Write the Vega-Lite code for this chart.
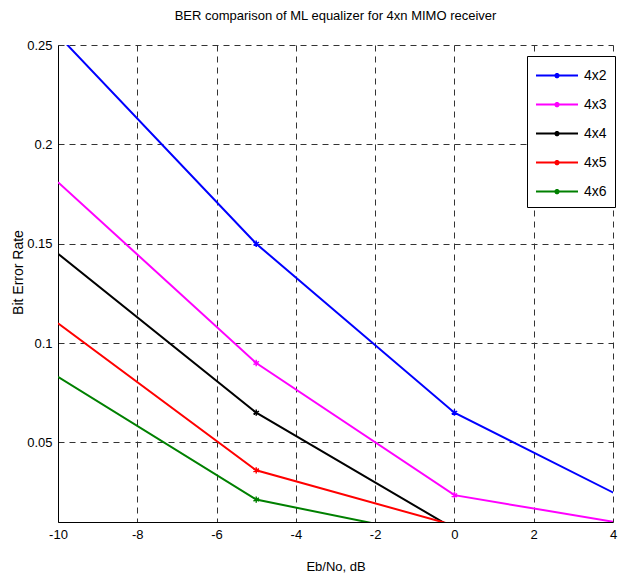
{
  "$schema": "https://vega.github.io/schema/vega-lite/v6.json",
  "width": 555,
  "height": 477,
  "autosize": {"type": "none"},
  "padding": {"left": 58, "top": 45, "right": 5, "bottom": 57},
  "background": "white",
  "title": {
    "text": "BER comparison of ML equalizer for 4xn MIMO receiver",
    "font": "Liberation Sans, sans-serif",
    "fontSize": 13,
    "fontWeight": "normal",
    "color": "black",
    "offset": 16,
    "anchor": "middle"
  },
  "data": {
    "values": [
      {"series": "4x2", "x": -10, "y": 0.255},
      {"series": "4x2", "x": -5, "y": 0.15},
      {"series": "4x2", "x": 0, "y": 0.065},
      {"series": "4x2", "x": 5, "y": 0.0148},
      {"series": "4x3", "x": -10, "y": 0.181},
      {"series": "4x3", "x": -5, "y": 0.09},
      {"series": "4x3", "x": 0, "y": 0.0235},
      {"series": "4x3", "x": 5, "y": 0.0068},
      {"series": "4x4", "x": -10, "y": 0.145},
      {"series": "4x4", "x": -5, "y": 0.065},
      {"series": "4x4", "x": 0, "y": 0.0065},
      {"series": "4x5", "x": -10, "y": 0.11},
      {"series": "4x5", "x": -5, "y": 0.036},
      {"series": "4x5", "x": 0, "y": 0.0083},
      {"series": "4x6", "x": -10, "y": 0.083},
      {"series": "4x6", "x": -5, "y": 0.0213},
      {"series": "4x6", "x": 0, "y": 0.001}
    ]
  },
  "encoding": {
    "x": {
      "field": "x",
      "type": "quantitative",
      "scale": {"domain": [-10, 4], "nice": false, "zero": false},
      "axis": {
        "title": "Eb/No, dB",
        "values": [-10, -8, -6, -4, -2, 0, 2, 4],
        "labelExpr": "'' + datum.value",
        "titleY": 44,
        "titleBaseline": "middle"
      }
    },
    "y": {
      "field": "y",
      "type": "quantitative",
      "scale": {"domain": [0.01, 0.25], "nice": false, "zero": false},
      "axis": {
        "title": "Bit Error Rate",
        "values": [0.05, 0.1, 0.15, 0.2, 0.25],
        "labelExpr": "'' + datum.value",
        "titleX": -40,
        "titleY": 227,
        "titleFontSize": 14,
        "titleBaseline": "middle",
        "titleAngle": -90
      }
    },
    "color": {
      "field": "series",
      "type": "nominal",
      "scale": {
        "domain": ["4x2", "4x3", "4x4", "4x5", "4x6"],
        "range": ["#0000ff", "#ff00ff", "#000000", "#ff0000", "#008000"]
      },
      "legend": {
        "title": null,
        "orient": "none",
        "legendX": 469,
        "legendY": 11
      }
    }
  },
  "layer": [
    {
      "mark": {"type": "line", "strokeWidth": 2, "clip": true}
    },
    {
      "transform": [{"filter": "datum.x > -10"}],
      "mark": {
        "type": "point",
        "shape": "M0,-1V1M-0.87,-0.5L0.87,0.5M-0.87,0.5L0.87,-0.5",
        "filled": false,
        "size": 40,
        "strokeWidth": 1.5,
        "opacity": 1,
        "clip": true
      }
    }
  ],
  "config": {
    "view": {"stroke": null},
    "font": "Liberation Sans, sans-serif",
    "axis": {
      "labelFont": "Liberation Sans, sans-serif",
      "titleFont": "Liberation Sans, sans-serif",
      "labelFontSize": 13,
      "titleFontSize": 13,
      "titleFontWeight": "normal",
      "labelColor": "black",
      "titleColor": "black",
      "domainColor": "black",
      "domainWidth": 1,
      "ticks": false,
      "labelPadding": 6,
      "grid": true,
      "gridColor": "#333333",
      "gridDash": [6, 5],
      "gridWidth": 1,
      "gridOpacity": 1,
      "labelFlush": false,
      "labelOverlap": false
    },
    "legend": {
      "labelFont": "Liberation Sans, sans-serif",
      "labelFontSize": 14,
      "labelColor": "black",
      "strokeColor": "black",
      "fillColor": "white",
      "padding": 8,
      "symbolType": "M-1,0H3M1,-0.25V0.25M0.8,-0.15L1.2,0.15M0.8,0.15L1.2,-0.15",
      "symbolSize": 441,
      "symbolStrokeWidth": 2,
      "symbolFillColor": "transparent",
      "rowPadding": 10,
      "labelOffset": 26
    }
  }
}
